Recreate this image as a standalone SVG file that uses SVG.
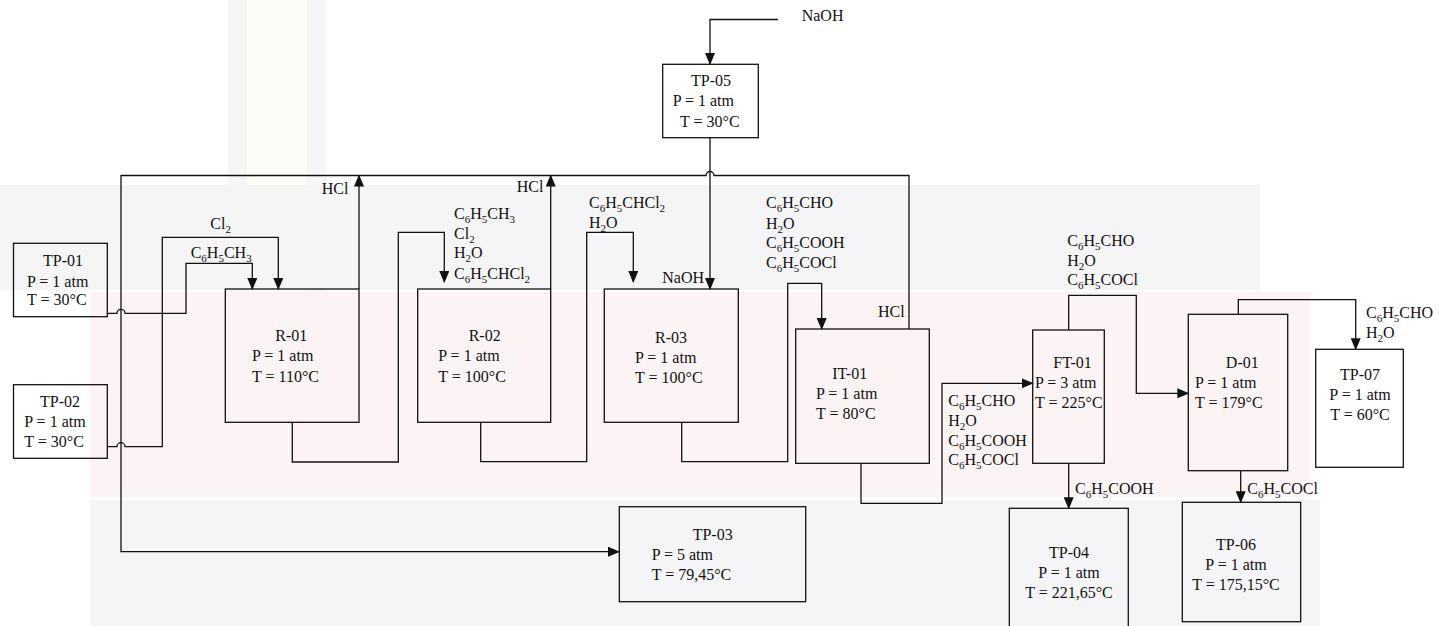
<svg xmlns="http://www.w3.org/2000/svg" width="1439" height="626" viewBox="0 0 1439 626">
<style>
text{font-family:'Liberation Serif','Times New Roman',Tinos,'DejaVu Serif',serif;font-size:16px;fill:#111}
.m{text-anchor:middle}
.s{font-size:11px;baseline-shift:-4px}
.box{fill:none;stroke:#111;stroke-width:1.3}
.ln{fill:none;stroke:#111;stroke-width:1.3}
.ar{marker-end:url(#ah)}
</style>
<defs>
<marker id="ah" markerUnits="userSpaceOnUse" markerWidth="12" markerHeight="10" refX="11" refY="5" orient="auto">
<path d="M0,0 L12,5 L0,10 z" fill="#111"/>
</marker>
</defs>
<rect width="1439" height="626" fill="#fff"/>
<g id="watermark" opacity="0.5">
<rect x="228" y="0" width="98" height="305" fill="#eeeef1"/>
<rect x="247" y="0" width="60" height="305" fill="#fdfbee"/>
<rect x="0" y="185" width="1260" height="105" fill="#ececef"/>
<rect x="90" y="292" width="1220" height="205" fill="#fbeaea"/>
<rect x="90" y="500" width="1230" height="126" fill="#ececef"/>
</g>
<g id="connectors">
<path class="ln ar" d="M778,19.5 H710 V64"/>
<path class="ln ar" d="M710,137.7 V289"/>
<path class="ln ar" d="M909,329 V175.5 H714 A4,4 0 0 0 706,175.5 H121 V551.7 H619"/>
<path class="ln ar" d="M359,289 V175.5"/>
<path class="ln ar" d="M550.7,289 V175.5"/>
<path class="ln ar" d="M107.3,313.3 H117 A4,4 0 0 1 125,313.3 H186 V263.3 H252.3 V289"/>
<path class="ln ar" d="M107.3,446.7 H117 A4,4 0 0 1 125,446.7 H162.3 V237.3 H278.3 V289"/>
<path class="ln ar" d="M292.3,422.3 V462 H398.3 V232.3 H444.3 V282"/>
<path class="ln ar" d="M480.7,422.3 V461.7 H586.7 V232.3 H633.3 V282"/>
<path class="ln ar" d="M681.7,422.3 V461.7 H787.7 V283.3 H821.7 V329"/>
<path class="ln ar" d="M861,463.3 V503.3 H942 V383.3 H1032.7"/>
<path class="ln ar" d="M1068.7,330 V295.3 H1136.3 V393.3 H1188.3"/>
<path class="ln ar" d="M1068.7,463.3 V508.3"/>
<path class="ln ar" d="M1238.3,314.3 V299.7 H1355.7 V349.3"/>
<path class="ln ar" d="M1240.7,470.7 V502.3"/>
</g>
<g id="labels" font-family="Liberation Serif, Times New Roman, serif">
<text x="801.7" y="21">NaOH</text>
<text x="662.3" y="283.3">NaOH</text>
<text x="321.7" y="194">HCl</text>
<text x="516.7" y="192">HCl</text>
<text x="878" y="317">HCl</text>
<text x="210.3" y="229.3">Cl<tspan class="s">2</tspan></text>
<text x="190.7" y="257.7">C<tspan class="s">6</tspan><tspan>H</tspan><tspan class="s">5</tspan><tspan>CH</tspan><tspan class="s">3</tspan></text>
<text x="454" y="219">C<tspan class="s">6</tspan><tspan>H</tspan><tspan class="s">5</tspan><tspan>CH</tspan><tspan class="s">3</tspan></text>
<text x="454" y="238.5">Cl<tspan class="s">2</tspan></text>
<text x="454" y="258.3">H<tspan class="s">2</tspan><tspan>O</tspan></text>
<text x="454" y="278.5">C<tspan class="s">6</tspan><tspan>H</tspan><tspan class="s">5</tspan><tspan>CHCl</tspan><tspan class="s">2</tspan></text>
<text x="589" y="208.3">C<tspan class="s">6</tspan><tspan>H</tspan><tspan class="s">5</tspan><tspan>CHCl</tspan><tspan class="s">2</tspan></text>
<text x="589" y="227.5">H<tspan class="s">2</tspan><tspan>O</tspan></text>
<text x="766" y="208.3">C<tspan class="s">6</tspan><tspan>H</tspan><tspan class="s">5</tspan><tspan>CHO</tspan></text>
<text x="766" y="228.5">H<tspan class="s">2</tspan><tspan>O</tspan></text>
<text x="766" y="248.3">C<tspan class="s">6</tspan><tspan>H</tspan><tspan class="s">5</tspan><tspan>COOH</tspan></text>
<text x="766" y="267.5">C<tspan class="s">6</tspan><tspan>H</tspan><tspan class="s">5</tspan><tspan>COCl</tspan></text>
<text x="948.3" y="406">C<tspan class="s">6</tspan><tspan>H</tspan><tspan class="s">5</tspan><tspan>CHO</tspan></text>
<text x="948.3" y="426">H<tspan class="s">2</tspan><tspan>O</tspan></text>
<text x="948.3" y="446">C<tspan class="s">6</tspan><tspan>H</tspan><tspan class="s">5</tspan><tspan>COOH</tspan></text>
<text x="948.3" y="465">C<tspan class="s">6</tspan><tspan>H</tspan><tspan class="s">5</tspan><tspan>COCl</tspan></text>
<text x="1067.3" y="246.3">C<tspan class="s">6</tspan><tspan>H</tspan><tspan class="s">5</tspan><tspan>CHO</tspan></text>
<text x="1067.3" y="265.8">H<tspan class="s">2</tspan><tspan>O</tspan></text>
<text x="1067.3" y="284.7">C<tspan class="s">6</tspan><tspan>H</tspan><tspan class="s">5</tspan><tspan>COCl</tspan></text>
<text x="1075" y="494.3">C<tspan class="s">6</tspan><tspan>H</tspan><tspan class="s">5</tspan><tspan>COOH</tspan></text>
<text x="1366" y="318.3">C<tspan class="s">6</tspan><tspan>H</tspan><tspan class="s">5</tspan><tspan>CHO</tspan></text>
<text x="1366" y="338.3">H<tspan class="s">2</tspan><tspan>O</tspan></text>
<text x="1247.3" y="494.3">C<tspan class="s">6</tspan><tspan>H</tspan><tspan class="s">5</tspan><tspan>COCl</tspan></text>
</g>
<g id="TP-01">
<rect class="box" x="13.5" y="243.3" width="93.8" height="73.4"/>
<text class="m" x="63" y="266">TP-01</text>
<text x="27" y="286.7">P = 1 atm</text>
<text x="27" y="305">T = 30°C</text>
</g>
<g id="TP-02">
<rect class="box" x="13.5" y="384.7" width="93.8" height="73.6"/>
<text class="m" x="60" y="406.7">TP-02</text>
<text x="24.3" y="427.3">P = 1 atm</text>
<text x="24.3" y="447.3">T = 30°C</text>
</g>
<g id="TP-05">
<rect class="box" x="662.7" y="64.3" width="95.6" height="73.4"/>
<text class="m" x="711" y="86">TP-05</text>
<text x="672.7" y="106">P = 1 atm</text>
<text x="680" y="127">T = 30°C</text>
</g>
<g id="R-01">
<rect class="box" x="225.3" y="289" width="133.7" height="133.3"/>
<text class="m" x="291.3" y="341">R-01</text>
<text x="252" y="361">P = 1 atm</text>
<text x="252" y="382">T = 110°C</text>
</g>
<g id="R-02">
<rect class="box" x="417.7" y="289" width="133" height="133.3"/>
<text class="m" x="484.7" y="341">R-02</text>
<text x="438.3" y="361">P = 1 atm</text>
<text x="438.3" y="382">T = 100°C</text>
</g>
<g id="R-03">
<rect class="box" x="604.3" y="289" width="134" height="133.3"/>
<text class="m" x="671" y="342.7">R-03</text>
<text x="635" y="362.7">P = 1 atm</text>
<text x="635" y="383">T = 100°C</text>
</g>
<g id="IT-01">
<rect class="box" x="795.7" y="329" width="133.6" height="134.3"/>
<text class="m" x="849.7" y="378.7">IT-01</text>
<text x="816" y="398.7">P = 1 atm</text>
<text x="816" y="418.7">T = 80°C</text>
</g>
<g id="FT-01">
<rect class="box" x="1032.7" y="330" width="71.6" height="133.3"/>
<text class="m" x="1072.5" y="367.7">FT-01</text>
<text x="1035" y="388">P = 3 atm</text>
<text x="1035" y="408">T = 225°C</text>
</g>
<g id="D-01">
<rect class="box" x="1188.3" y="314.3" width="99.4" height="156.4"/>
<text class="m" x="1242.3" y="368">D-01</text>
<text x="1195" y="388">P = 1 atm</text>
<text x="1195" y="408">T = 179°C</text>
</g>
<g id="TP-07">
<rect class="box" x="1315.7" y="349.3" width="87.6" height="118"/>
<text class="m" x="1360" y="380">TP-07</text>
<text class="m" x="1360" y="400">P = 1 atm</text>
<text class="m" x="1360" y="420">T = 60°C</text>
</g>
<g id="TP-03">
<rect class="box" x="619.3" y="506.7" width="186.4" height="95"/>
<text class="m" x="712.7" y="540">TP-03</text>
<text x="651.7" y="560">P = 5 atm</text>
<text x="651.7" y="580">T = 79,45°C</text>
</g>
<g id="TP-04">
<rect class="box" x="1009.3" y="508.3" width="119" height="130"/>
<text class="m" x="1069" y="557.7">TP-04</text>
<text class="m" x="1069" y="578">P = 1 atm</text>
<text class="m" x="1069" y="598">T = 221,65°C</text>
</g>
<g id="TP-06">
<rect class="box" x="1182.3" y="502.3" width="118.4" height="119.4"/>
<text class="m" x="1236" y="550">TP-06</text>
<text class="m" x="1236" y="570">P = 1 atm</text>
<text class="m" x="1236" y="590">T = 175,15°C</text>
</g>
</svg>
